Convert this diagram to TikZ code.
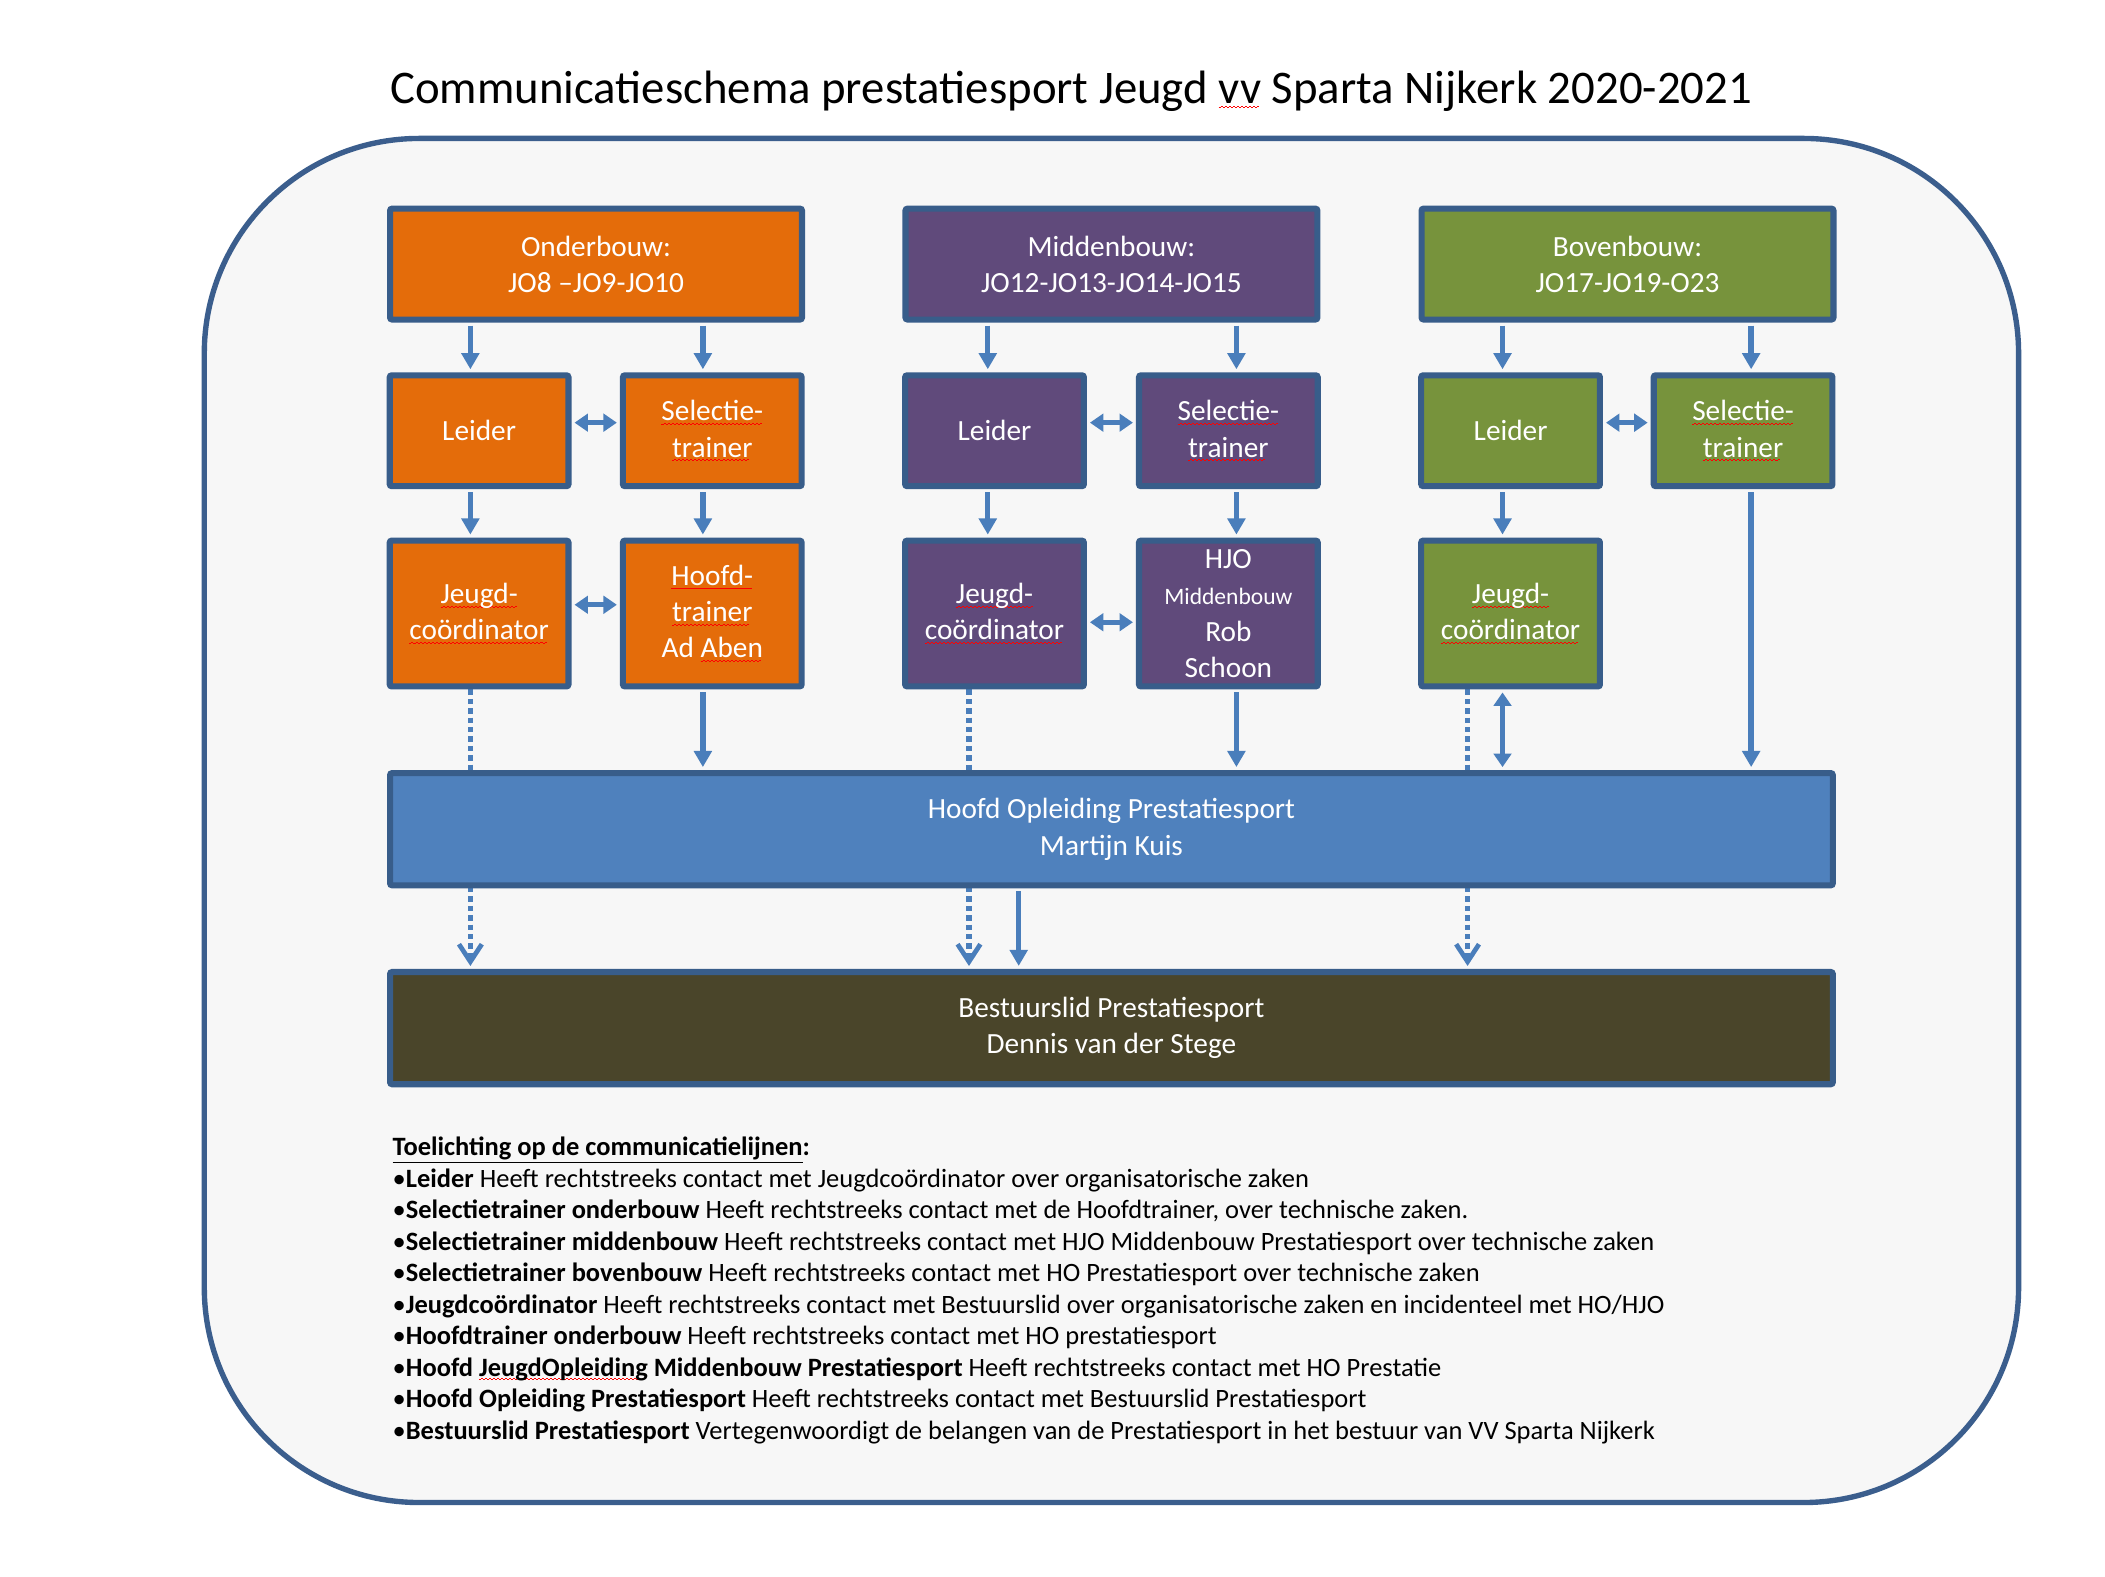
\documentclass[tikz,border=0pt]{standalone}
\usepackage{fontspec}
\setmainfont{Carlito}
\usetikzlibrary{arrows.meta,calc}
\newsavebox\sqbox
\newcommand\sqg[1]{\sbox\sqbox{#1}\rlap{\textcolor{red}{\raisebox{-3pt}{\leaders\hbox to 3pt{\rule{1.5pt}{0.7pt}\rule[0.7pt]{1.5pt}{0.7pt}}\hskip\wd\sqbox}}}#1}
\definecolor{orangeF}{HTML}{E46C0A}
\definecolor{purpleF}{HTML}{604A7B}
\definecolor{greenF}{HTML}{77933C}
\definecolor{borderB}{HTML}{385D8A}
\definecolor{hoF}{HTML}{4F81BD}
\definecolor{bestF}{HTML}{4A452A}
\definecolor{arrowB}{HTML}{4A7EBB}
\definecolor{frameF}{HTML}{F7F7F7}
\definecolor{frameB}{HTML}{3B5E8D}
\pgfdeclarelayer{bg}
\pgfdeclarelayer{mid}
\pgfsetlayers{bg,mid,main}
\begin{document}
\begin{tikzpicture}[x=1pt,y=-1pt,
  box/.style={draw=borderB, line width=4.5pt, rounded corners=1.5pt, text=white, align=center, inner sep=0pt, font=\fontsize{21.8}{27}\selectfont},
  hdrbox/.style={box, minimum width=306.5pt, minimum height=82.5pt},
  smbox/.style={box, minimum width=133pt, minimum height=82.5pt},
  tallbox/.style={box, minimum width=133pt, minimum height=108.5pt},
  widebox/.style={box, minimum width=1073.5pt, minimum height=83.5pt},
  arr/.style={draw=arrowB, line width=4pt, shorten <=2.25pt, shorten >=2.25pt, -{Triangle[width=13pt,length=12pt]}},
  dbl/.style={draw=arrowB, line width=4pt, shorten <=2.25pt, shorten >=2.25pt, {Triangle[width=13pt,length=10pt]}-{Triangle[width=13pt,length=10pt]}},
  dotarr/.style={draw=arrowB, line width=4pt, dash pattern=on 4pt off 3pt, shorten >=2.25pt, -{Straight Barb[width=17pt,length=13pt,line width=3.5pt]}},
  expl/.style={anchor=base west, inner sep=0pt, font=\fontsize{19.7}{23}\selectfont}
]
\useasboundingbox (0,0) rectangle (1566.3,1172.7);
\begin{pgfonlayer}{bg}
\fill[white] (0,0) rectangle (1566.3,1172.7);
\draw[draw=frameB, fill=frameF, line width=4pt, rounded corners=160pt] (152,103) rectangle (1502,1118);
\end{pgfonlayer}

\node[font=\fontsize{34.8}{40}\selectfont, inner sep=0pt] (title) at (797,68) {Communicatieschema prestatiesport Jeugd \sqg{vv} Sparta Nijkerk 2020-2021};

% header row
\node[hdrbox, fill=orangeF] (hdrO) at (443.5,196.5) {Onderbouw:\\JO8 –JO9-JO10};
\node[hdrbox, fill=purpleF] (hdrM) at (827,196.5) {Middenbouw:\\JO12-JO13-JO14-JO15};
\node[hdrbox, fill=greenF] (hdrB) at (1211,196.5) {Bovenbouw:\\JO17-JO19-O23};
% row 2
\node[smbox, fill=orangeF] (ldO) at (356.5,320.5) {Leider};
\node[smbox, fill=orangeF] (slO) at (530,320.5) {\sqg{Selectie-}\\\sqg{trainer}};
\node[smbox, fill=purpleF] (ldM) at (740,320.5) {Leider};
\node[smbox, fill=purpleF] (slM) at (914,320.5) {\sqg{Selectie-}\\\sqg{trainer}};
\node[smbox, fill=greenF] (ldB) at (1124,320.5) {Leider};
\node[smbox, fill=greenF] (slB) at (1297,320.5) {\sqg{Selectie-}\\\sqg{trainer}};
% row 3
\node[tallbox, fill=orangeF] (jcO) at (356.5,456.5) {\sqg{Jeugd-}\\\sqg{coördinator}};
\node[tallbox, fill=orangeF] (htO) at (530,456.5) {\sqg{Hoofd-}\\\sqg{trainer}\\Ad \sqg{Aben}};
\node[tallbox, fill=purpleF] (jcM) at (740,456.5) {\sqg{Jeugd-}\\\sqg{coördinator}};
\node[tallbox, fill=purpleF] (hjo) at (914,456.5) {HJO\\{\fontsize{17.5}{26}\selectfont Middenbouw}\\Rob\\Schoon};
\node[tallbox, fill=greenF] (jcB) at (1124,456.5) {\sqg{Jeugd-}\\\sqg{coördinator}};
% wide boxes
\node[widebox, fill=hoF] (ho) at (827,617) {Hoofd Opleiding Prestatiesport\\Martijn Kuis};
\node[widebox, fill=bestF] (best) at (827,765) {Bestuurslid Prestatiesport\\Dennis van der Stege};

% connector x / y positions
\coordinate (a1) at (350,0);
\coordinate (a2) at (523,0);
\coordinate (a3) at (735,0);
\coordinate (a4) at (920,0);
\coordinate (a5) at (1118,0);
\coordinate (a6) at (1303,0);
\coordinate (a7) at (758,0);
\coordinate (d2) at (721,0);
\coordinate (d3) at (1092,0);
\coordinate (r2) at (0,314.5);
\coordinate (r3o) at (0,450);
\coordinate (r3m) at (0,463);

\draw[arr] (hdrO.south -| a1) -- (ldO.north -| a1);
\draw[arr] (hdrO.south -| a2) -- (slO.north -| a2);
\draw[arr] (hdrM.south -| a3) -- (ldM.north -| a3);
\draw[arr] (hdrM.south -| a4) -- (slM.north -| a4);
\draw[arr] (hdrB.south -| a5) -- (ldB.north -| a5);
\draw[arr] (hdrB.south -| a6) -- (slB.north -| a6);

\draw[dbl] (ldO.east |- r2) -- (slO.west |- r2);
\draw[dbl] (ldM.east |- r2) -- (slM.west |- r2);
\draw[dbl] (ldB.east |- r2) -- (slB.west |- r2);

\draw[arr] (ldO.south -| a1) -- (jcO.north -| a1);
\draw[arr] (slO.south -| a2) -- (htO.north -| a2);
\draw[arr] (ldM.south -| a3) -- (jcM.north -| a3);
\draw[arr] (slM.south -| a4) -- (hjo.north -| a4);
\draw[arr] (ldB.south -| a5) -- (jcB.north -| a5);

\draw[dbl] (jcO.east |- r3o) -- (htO.west |- r3o);
\draw[dbl] (jcM.east |- r3m) -- (hjo.west |- r3m);

\draw[arr] (htO.south -| a2) -- (ho.north -| a2);
\draw[arr] (hjo.south -| a4) -- (ho.north -| a4);
\draw[dbl] (jcB.south -| a5) -- (ho.north -| a5);
\draw[arr] (slB.south -| a6) -- (ho.north -| a6);
\draw[arr] (ho.south -| a7) -- (best.north -| a7);

\begin{pgfonlayer}{mid}
\draw[dotarr] (jcO.south -| a1) -- (best.north -| a1);
\draw[dotarr] (jcM.south -| d2) -- (best.north -| d2);
\draw[dotarr] (jcB.south -| d3) -- (best.north -| d3);
\end{pgfonlayer}

% explanation
\node[expl] (t0) at (292,860) {\textbf{\underline{Toelichting op de communicatielijnen}:}};
\node[expl] (t1) at (292,883.4) {•\textbf{Leider} Heeft rechtstreeks contact met Jeugdcoördinator over organisatorische zaken};
\node[expl] (t2) at (292,906.9) {•\textbf{Selectietrainer onderbouw} Heeft rechtstreeks contact met de Hoofdtrainer, over technische zaken.};
\node[expl] (t3) at (292,930.3) {•\textbf{Selectietrainer middenbouw} Heeft rechtstreeks contact met HJO Middenbouw Prestatiesport over technische zaken};
\node[expl] (t4) at (292,953.8) {•\textbf{Selectietrainer bovenbouw} Heeft rechtstreeks contact met HO Prestatiesport over technische zaken};
\node[expl] (t5) at (292,977.2) {•\textbf{Jeugdcoördinator} Heeft rechtstreeks contact met Bestuurslid over organisatorische zaken en incidenteel met HO/HJO};
\node[expl] (t6) at (292,1000.6) {•\textbf{Hoofdtrainer onderbouw} Heeft rechtstreeks contact met HO prestatiesport};
\node[expl] (t7) at (292,1024.1) {•\textbf{Hoofd \sqg{JeugdOpleiding} Middenbouw Prestatiesport} Heeft rechtstreeks contact met HO Prestatie};
\node[expl] (t8) at (292,1047.5) {•\textbf{Hoofd Opleiding Prestatiesport} Heeft rechtstreeks contact met Bestuurslid Prestatiesport};
\node[expl] (t9) at (292,1071) {•\textbf{Bestuurslid Prestatiesport} Vertegenwoordigt de belangen van de Prestatiesport in het bestuur van VV Sparta Nijkerk};
\end{tikzpicture}
\end{document}
